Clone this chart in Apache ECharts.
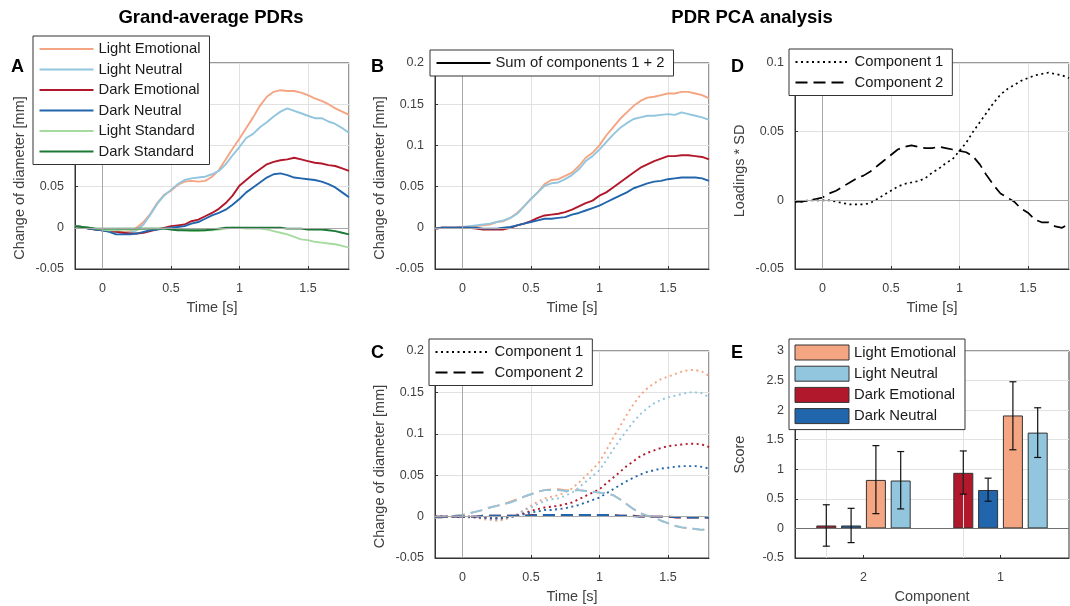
<!DOCTYPE html>
<html>
<head>
<meta charset="utf-8">
<script src="https://cdn.jsdelivr.net/npm/echarts@6/dist/echarts.min.js"></script>
<style>html,body{margin:0;padding:0;background:#fff}#c{width:1070px;height:606px}</style>
</head>
<body>
<div id="c"></div>
<script>
// ---------- DATA ----------
const time = [-0.2,-0.15,-0.1,-0.05,0,0.05,0.1,0.15,0.2,0.25,0.3,0.35,0.4,0.45,0.5,0.55,0.6,0.65,0.7,0.75,0.8,0.85,0.9,0.95,1,1.05,1.1,1.15,1.2,1.25,1.3,1.35,1.4,1.45,1.5,1.55,1.6,1.65,1.7,1.75,1.8];

// Panel A: grand-average PDRs
const aLightEmotional = [0.002,0.001,-0.001,-0.002,-0.003,-0.004,-0.005,-0.005,-0.004,0.000,0.007,0.017,0.030,0.040,0.045,0.052,0.056,0.057,0.056,0.057,0.062,0.070,0.083,0.096,0.108,0.121,0.134,0.148,0.159,0.165,0.167,0.166,0.166,0.164,0.161,0.157,0.154,0.150,0.145,0.141,0.137];
const aLightNeutral = [0.002,0.001,0.000,-0.002,-0.003,-0.004,-0.005,-0.006,-0.006,-0.003,0.004,0.016,0.029,0.039,0.046,0.053,0.058,0.060,0.061,0.062,0.065,0.069,0.077,0.088,0.098,0.109,0.114,0.122,0.128,0.135,0.141,0.145,0.142,0.139,0.136,0.133,0.133,0.129,0.126,0.121,0.115];
const aDarkEmotional = [0.002,0.001,-0.001,-0.002,-0.003,-0.004,-0.005,-0.006,-0.007,-0.007,-0.006,-0.004,-0.002,0.000,0.002,0.003,0.004,0.008,0.010,0.014,0.018,0.023,0.030,0.039,0.051,0.058,0.065,0.071,0.077,0.080,0.082,0.083,0.085,0.083,0.081,0.079,0.078,0.076,0.075,0.072,0.069];
const aDarkNeutral = [0.002,0.001,-0.001,-0.002,-0.003,-0.005,-0.008,-0.008,-0.008,-0.007,-0.005,-0.003,-0.002,-0.001,0.000,0.001,0.002,0.005,0.007,0.011,0.015,0.018,0.022,0.028,0.035,0.043,0.049,0.055,0.061,0.065,0.066,0.064,0.061,0.060,0.059,0.058,0.056,0.053,0.049,0.043,0.037];
const aLightStandard = [0.002,0.001,0.000,-0.001,-0.002,-0.003,-0.003,-0.002,-0.002,-0.002,-0.001,-0.001,-0.001,-0.001,-0.001,-0.002,-0.003,-0.004,-0.004,-0.003,-0.003,-0.002,-0.001,0.000,0.000,-0.001,-0.001,-0.001,-0.002,-0.004,-0.006,-0.008,-0.011,-0.014,-0.015,-0.017,-0.018,-0.019,-0.020,-0.022,-0.024];
const aDarkStandard = [0.002,0.001,0.000,-0.001,-0.001,-0.001,-0.001,-0.001,-0.001,-0.001,-0.001,-0.001,-0.001,-0.001,-0.002,-0.003,-0.003,-0.003,-0.003,-0.003,-0.002,-0.001,0.000,0.000,0.000,0.000,0.000,0.000,0.000,0.000,0.000,-0.001,-0.001,-0.001,-0.002,-0.002,-0.002,-0.003,-0.004,-0.006,-0.008];

// Panel B: sum of components 1 + 2
const bLightEmotional = [-0.001,0.000,0.000,0.000,0.001,0.001,0.002,0.003,0.004,0.007,0.008,0.012,0.018,0.026,0.035,0.043,0.053,0.058,0.059,0.063,0.067,0.075,0.085,0.091,0.100,0.112,0.122,0.132,0.140,0.148,0.154,0.158,0.159,0.161,0.163,0.163,0.165,0.165,0.163,0.161,0.157];
const bLightNeutral = [-0.001,0.000,0.000,0.000,0.001,0.002,0.003,0.004,0.005,0.007,0.009,0.012,0.017,0.026,0.035,0.043,0.051,0.054,0.055,0.059,0.064,0.071,0.081,0.087,0.095,0.104,0.113,0.121,0.127,0.132,0.134,0.136,0.136,0.137,0.138,0.137,0.140,0.138,0.136,0.134,0.131];
const bDarkEmotional = [-0.001,0.000,0.000,0.000,0.000,0.000,-0.001,-0.002,-0.002,-0.002,-0.002,0.000,0.003,0.005,0.008,0.012,0.015,0.016,0.017,0.019,0.022,0.026,0.030,0.033,0.039,0.043,0.049,0.055,0.061,0.067,0.073,0.077,0.081,0.084,0.087,0.087,0.088,0.088,0.087,0.086,0.083];
const bDarkNeutral = [-0.001,0.000,0.000,0.000,0.000,0.000,0.000,-0.001,-0.001,-0.001,0.000,0.001,0.003,0.005,0.007,0.009,0.011,0.011,0.012,0.013,0.016,0.018,0.021,0.024,0.027,0.031,0.035,0.039,0.043,0.048,0.051,0.054,0.056,0.057,0.059,0.060,0.061,0.061,0.061,0.060,0.057];

// Panel C: component 1 (dotted) and component 2 (dashed)
const c1LightEmotional = [0,0,0,0,0,-0.001,-0.001,-0.003,-0.004,-0.005,-0.004,-0.001,0.003,0.008,0.013,0.018,0.022,0.024,0.026,0.029,0.034,0.041,0.049,0.057,0.066,0.080,0.095,0.109,0.123,0.136,0.147,0.155,0.161,0.166,0.169,0.172,0.175,0.177,0.177,0.175,0.170];
const c1LightNeutral = [0,0,0,0,0,-0.001,-0.001,-0.002,-0.003,-0.004,-0.003,-0.001,0.002,0.007,0.011,0.015,0.019,0.021,0.022,0.025,0.029,0.035,0.042,0.049,0.056,0.068,0.081,0.093,0.104,0.115,0.124,0.131,0.137,0.141,0.144,0.146,0.148,0.150,0.150,0.149,0.144];
const c1DarkEmotional = [0,0,0,0,0,0.000,-0.001,-0.001,-0.002,-0.002,-0.002,0.000,0.001,0.004,0.007,0.009,0.011,0.012,0.013,0.015,0.017,0.021,0.025,0.029,0.033,0.040,0.047,0.054,0.061,0.067,0.073,0.077,0.080,0.083,0.085,0.086,0.087,0.088,0.088,0.087,0.084];
const c1DarkNeutral = [0,0,0,0,0,0.000,0.000,-0.001,-0.001,-0.002,-0.001,0.000,0.001,0.003,0.005,0.006,0.008,0.008,0.009,0.010,0.012,0.014,0.017,0.020,0.023,0.028,0.033,0.038,0.043,0.047,0.051,0.054,0.056,0.058,0.059,0.060,0.061,0.061,0.061,0.060,0.058];
const c2LightEmotional = [-0.001,-0.001,0.000,0.001,0.002,0.004,0.006,0.008,0.011,0.013,0.015,0.018,0.021,0.024,0.027,0.030,0.032,0.033,0.033,0.032,0.032,0.032,0.031,0.030,0.029,0.028,0.026,0.021,0.015,0.009,0.004,0.001,-0.001,-0.005,-0.008,-0.011,-0.013,-0.014,-0.015,-0.016,-0.014];
const c2LightNeutral = [-0.001,-0.001,0.000,0.001,0.002,0.004,0.006,0.008,0.011,0.013,0.015,0.017,0.020,0.024,0.027,0.030,0.032,0.032,0.032,0.031,0.031,0.032,0.031,0.030,0.029,0.028,0.026,0.021,0.015,0.009,0.004,0.001,-0.001,-0.005,-0.008,-0.011,-0.013,-0.014,-0.015,-0.016,-0.014];
const c2DarkEmotional = [0,0,0,0,0,0,0,0.001,0.001,0.001,0.001,0.001,0.001,0.001,0.002,0.002,0.002,0.002,0.002,0.002,0.002,0.002,0.002,0.002,0.002,0.002,0.002,0.001,0.001,0.001,0,0,0,0,0,-0.001,-0.001,-0.001,-0.001,-0.001,-0.001];
const c2DarkNeutral = [0,0,0,0,0,0,0,0.001,0.001,0.001,0.001,0.001,0.001,0.001,0.0015,0.002,0.002,0.002,0.002,0.002,0.002,0.002,0.002,0.002,0.002,0.002,0.0015,0.001,0.001,0.0005,0,0,0,0,0,-0.0005,-0.001,-0.001,-0.001,-0.001,-0.001];

// Panel D: loadings * SD
const dComp1 = [-0.001,-0.001,0.000,0.000,0.000,0.000,-0.001,-0.002,-0.003,-0.003,-0.003,-0.002,0.001,0.004,0.007,0.010,0.012,0.013,0.014,0.016,0.020,0.023,0.027,0.030,0.036,0.042,0.050,0.057,0.064,0.071,0.077,0.081,0.084,0.087,0.089,0.091,0.092,0.093,0.092,0.091,0.089];
const dComp2 = [-0.001,-0.001,0.000,0.001,0.002,0.005,0.007,0.010,0.013,0.016,0.018,0.021,0.025,0.029,0.033,0.037,0.039,0.040,0.039,0.038,0.038,0.039,0.038,0.037,0.036,0.035,0.032,0.026,0.018,0.011,0.005,0.002,-0.001,-0.006,-0.009,-0.014,-0.016,-0.016,-0.019,-0.020,-0.017];

// Panel E: scores
const eCategories = ['2', '1'];
const eDarkEmotional = [0.05, 0.94];
const eDarkNeutral = [0.05, 0.65];
const eLightEmotional = [0.82, 1.91];
const eLightNeutral = [0.81, 1.62];
const eDarkEmotionalErr = [[-0.30, 0.40], [0.58, 1.31]];
const eDarkNeutralErr = [[-0.24, 0.34], [0.46, 0.85]];
const eLightEmotionalErr = [[0.25, 1.40], [1.33, 2.48]];
const eLightNeutralErr = [[0.33, 1.30], [1.20, 2.04]];

// ---------- STYLE ----------
const FONT = '"Liberation Sans", Arial, Helvetica, sans-serif';
const COL = {LE:'#f4a582', LN:'#92c5de', DE:'#b2182b', DN:'#2166ac', LS:'#a6dba0', DS:'#1b7837'};
const AXC = '#333333', TXT = '#404040', GRIDC = '#e1e1e1', ZEROC = '#a8a8a8';
const DOT = [2, 3.5], DASH = [12, 6];
const BARW = 20, BARGAP = 4.8;
const NOSYM = {color:'rgba(0,0,0,0)', borderColor:'rgba(0,0,0,0)', borderWidth:0};

const chart = echarts.init(document.getElementById('c'), null, {renderer:'canvas'});

const grids = [
  {left:75, top:63, width:274, height:206},   // A
  {left:435, top:63, width:274, height:206},  // B
  {left:795, top:63, width:274, height:206},  // D
  {left:435, top:351, width:274, height:207}, // C
  {left:795, top:351, width:274, height:207}  // E
].map(g => Object.assign({show:true, borderColor:AXC, borderWidth:1, backgroundColor:'#fff', containLabel:false}, g));

function fmt(v){ return String(+v.toFixed(3)); }

function timeAxis(gi){
  return {
    type:'value', gridIndex:gi, min:-0.2, max:1.8, splitNumber:4,
    name:'Time [s]', nameLocation:'middle', nameGap:31,
    nameTextStyle:{fontFamily:FONT, fontSize:14.5, color:TXT},
    axisLine:{show:true, onZero:false, lineStyle:{color:AXC, width:1}},
    axisTick:{show:true, inside:true, length:3, lineStyle:{color:AXC}},
    axisLabel:{fontFamily:FONT, fontSize:12.5, color:TXT, margin:13, showMinLabel:false, showMaxLabel:false, formatter:fmt},
    splitLine:{show:true, lineStyle:{color:GRIDC, width:1}}
  };
}
function valAxis(gi, min, max, interval, name, shift){
  return {
    type:'value', gridIndex:gi, min:min, max:max, interval:interval,
    name:name, nameLocation:'middle', nameGap:48,
    nameTextStyle:{fontFamily:FONT, fontSize:14.5, color:TXT, padding:[0, shift*2, 0, 0]},
    axisLine:{show:true, onZero:false, lineStyle:{color:AXC, width:1}},
    axisTick:{show:true, inside:true, length:3, lineStyle:{color:AXC}},
    axisLabel:{fontFamily:FONT, fontSize:12.5, color:TXT, margin:11, formatter:fmt},
    splitLine:{show:true, lineStyle:{color:GRIDC, width:1}}
  };
}

const xAxes = [timeAxis(0), timeAxis(1), timeAxis(2), timeAxis(3),
  {
    type:'category', gridIndex:4, data:eCategories,
    name:'Component', nameLocation:'middle', nameGap:31,
    nameTextStyle:{fontFamily:FONT, fontSize:14.5, color:TXT},
    axisLine:{show:true, onZero:false, lineStyle:{color:AXC, width:1}},
    axisTick:{show:true, inside:true, length:3, alignWithLabel:true, lineStyle:{color:AXC}},
    axisLabel:{fontFamily:FONT, fontSize:12.5, color:TXT, margin:13},
    splitLine:{show:false}
  }];
const yAxes = [
  valAxis(0, -0.05, 0.2, 0.05, 'Change of diameter [mm]', 12),
  valAxis(1, -0.05, 0.2, 0.05, 'Change of diameter [mm]', 12),
  valAxis(2, -0.05, 0.1, 0.05, 'Loadings * SD', 5),
  valAxis(3, -0.05, 0.2, 0.05, 'Change of diameter [mm]', 12),
  valAxis(4, -0.5, 3, 0.5, 'Score', 0)
];

function zip(vals){ return time.map((t, i) => [t, vals[i]]); }
function zeroMark(){
  return {silent:true, symbol:['none','none'], label:{show:false},
    lineStyle:{color:ZEROC, type:'solid', width:1}, animation:false,
    data:[{xAxis:0}, {yAxis:0}]};
}
function line(name, vals, color, gi, type, width, mark){
  const s = {
    type:'line', name:name, xAxisIndex:gi, yAxisIndex:gi, data: vals ? zip(vals) : [],
    symbol:'none', showSymbol:false, animation:false, z:3,
    lineStyle:{color:color, width:width, type:type || 'solid'},
    itemStyle:{color:color}
  };
  if (mark) s.markLine = zeroMark();
  return s;
}

const series = [];
// A
series.push(line('Light Emotional', aLightEmotional, COL.LE, 0, 'solid', 1.9, true));
series.push(line('Light Neutral', aLightNeutral, COL.LN, 0, 'solid', 1.9));
series.push(line('Dark Emotional', aDarkEmotional, COL.DE, 0, 'solid', 1.9));
series.push(line('Dark Neutral', aDarkNeutral, COL.DN, 0, 'solid', 1.9));
series.push(line('Light Standard', aLightStandard, COL.LS, 0, 'solid', 1.9));
series.push(line('Dark Standard', aDarkStandard, COL.DS, 0, 'solid', 1.9));
// B
series.push(line('B|Sum of components 1 + 2', null, '#000', 1, 'solid', 1.9, true));
series.push(line('B-LE', bLightEmotional, COL.LE, 1, 'solid', 1.9));
series.push(line('B-LN', bLightNeutral, COL.LN, 1, 'solid', 1.9));
series.push(line('B-DE', bDarkEmotional, COL.DE, 1, 'solid', 1.9));
series.push(line('B-DN', bDarkNeutral, COL.DN, 1, 'solid', 1.9));
// D
series.push(line('D|Component 1', dComp1, '#000', 2, DOT, 1.7, true));
series.push(line('D|Component 2', dComp2, '#000', 2, DASH, 1.7));
// C
series.push(line('C|Component 1', null, '#000', 3, DOT, 1.7, true));
series.push(line('C|Component 2', null, '#000', 3, DASH, 1.7));
series.push(line('C1-LE', c1LightEmotional, COL.LE, 3, DOT, 1.9));
series.push(line('C1-LN', c1LightNeutral, COL.LN, 3, DOT, 1.9));
series.push(line('C1-DE', c1DarkEmotional, COL.DE, 3, DOT, 1.9));
series.push(line('C1-DN', c1DarkNeutral, COL.DN, 3, DOT, 1.9));
series.push(line('C2-LE', c2LightEmotional, COL.LE, 3, DASH, 1.9));
series.push(line('C2-LN', c2LightNeutral, COL.LN, 3, DASH, 1.9));
series.push(line('C2-DE', c2DarkEmotional, COL.DE, 3, DASH, 1.9));
series.push(line('C2-DN', c2DarkNeutral, COL.DN, 3, DASH, 1.9));

// E bars
const barDefs = [
  ['E|Dark Emotional', eDarkEmotional, eDarkEmotionalErr, COL.DE],
  ['E|Dark Neutral', eDarkNeutral, eDarkNeutralErr, COL.DN],
  ['E|Light Emotional', eLightEmotional, eLightEmotionalErr, COL.LE],
  ['E|Light Neutral', eLightNeutral, eLightNeutralErr, COL.LN]
];
barDefs.forEach((b, k) => {
  const s = {
    type:'bar', name:b[0], xAxisIndex:4, yAxisIndex:4, data:b[1],
    barWidth:BARW, barGap:(BARGAP / BARW * 100) + '%', animation:false, z:3,
    itemStyle:{color:b[3], borderColor:'#333', borderWidth:1}
  };
  if (k === 0) {
    s.markLine = {silent:true, symbol:['none','none'], label:{show:false}, animation:false,
      data:[
        {xAxis:'2', lineStyle:{color:GRIDC, width:1, type:'solid'}},
        {xAxis:'1', lineStyle:{color:GRIDC, width:1, type:'solid'}},
        {yAxis:0, lineStyle:{color:'#707070', width:1, type:'solid'}}
      ]};
  }
  series.push(s);
});
const errData = [];
barDefs.forEach((b, k) => { b[2].forEach((e, ci) => errData.push([ci, e[0], e[1], k])); });
series.push({
  type:'custom', name:'E-err', xAxisIndex:4, yAxisIndex:4, data:errData, z:5, animation:false,
  encode:{x:0, y:[1,2]},
  renderItem:function(params, api){
    const ci = api.value(0), k = api.value(3);
    const lo = api.coord([ci, api.value(1)]);
    const hi = api.coord([ci, api.value(2)]);
    const x = lo[0] + (k - 1.5) * (BARW + BARGAP);
    const cap = 3.5;
    const st = {stroke:'#111', lineWidth:1.2};
    return {type:'group', children:[
      {type:'line', shape:{x1:x, y1:lo[1], x2:x, y2:hi[1]}, style:st},
      {type:'line', shape:{x1:x-cap, y1:lo[1], x2:x+cap, y2:lo[1]}, style:st},
      {type:'line', shape:{x1:x-cap, y1:hi[1], x2:x+cap, y2:hi[1]}, style:st}
    ]};
  }
});

function legend(names, left, top, extra){
  return Object.assign({
    data:names, left:left, top:top, orient:'vertical', selectedMode:false,
    itemWidth:54, itemHeight:14, itemGap:5.5, padding:[5.5, 9, 5.5, 5.5],
    backgroundColor:'#fff', borderColor:AXC, borderWidth:1, borderRadius:0,
    textStyle:{fontFamily:FONT, fontSize:14.8, color:'#1a1a1a'},
    formatter: n => n.indexOf('|') >= 0 ? n.split('|')[1] : n,
    itemStyle:NOSYM,
    z:10
  }, extra || {});
}
const legends = [
  legend(['Light Emotional','Light Neutral','Dark Emotional','Dark Neutral','Light Standard','Dark Standard'], 33, 36),
  legend(['B|Sum of components 1 + 2'], 430, 50),
  legend(['D|Component 1','D|Component 2'], 789, 49),
  legend(['C|Component 1','C|Component 2'], 429, 339),
  legend(['E|Light Emotional','E|Light Neutral','E|Dark Emotional','E|Dark Neutral'], 789, 339,
    {icon:'rect', itemHeight:15, itemGap:5.2, itemStyle:{borderColor:'#333', borderWidth:1}})
];

function txt(s, x, y, size, align){
  return {type:'text', x:x, y:y, z:20, style:{text:s, font:'bold ' + size + 'px ' + FONT, fill:'#000', textAlign:align || 'left', textVerticalAlign:'middle'}};
}
const graphics = [
  txt('Grand-average PDRs', 211, 18, 18.5, 'center'),
  txt('PDR PCA analysis', 752, 18, 18.5, 'center'),
  txt('A', 11, 67, 18), txt('B', 371, 67, 18), txt('D', 731, 67, 18),
  txt('C', 371, 353, 18), txt('E', 731, 353, 18)
];

chart.setOption({
  backgroundColor:'#fff', animation:false,
  textStyle:{fontFamily:FONT},
  grid:grids, xAxis:xAxes, yAxis:yAxes, legend:legends, series:series, graphic:graphics
});
</script>
</body>
</html>
